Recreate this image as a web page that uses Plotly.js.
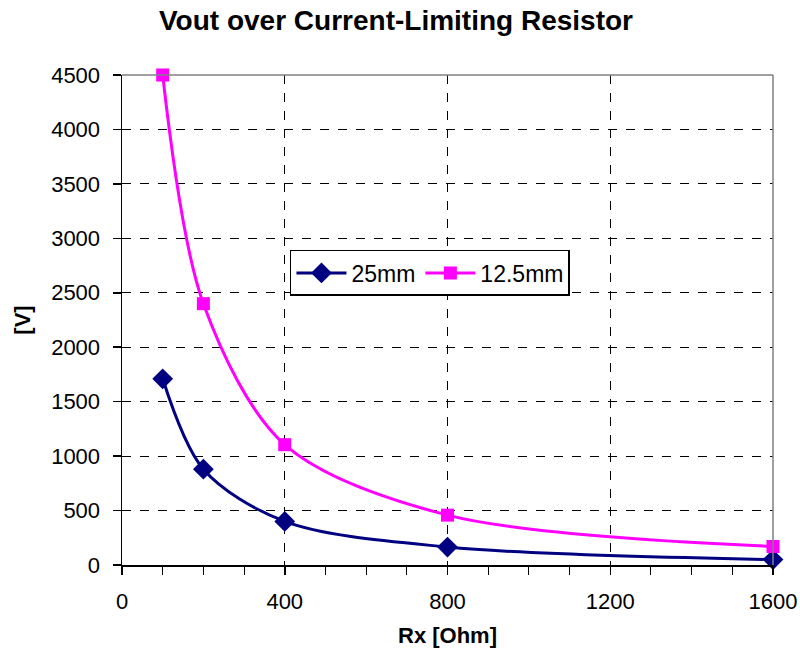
<!DOCTYPE html>
<html>
<head>
<meta charset="utf-8">
<script src="https://cdn.plot.ly/plotly-3.0.1.min.js"></script>
<style>html,body{margin:0;padding:0;background:#fff;}#chart{width:800px;height:658px;}</style>
</head>
<body>
<div id="chart"></div>
<script>
const rx = [100, 200, 400, 800, 1600];
const vout25 = [1710, 880, 400, 165, 50];
const vout125 = [4500, 2400, 1105, 458, 170];
const seriesNames = ["25mm", "12.5mm"];
const xTicks = [0, 400, 800, 1200, 1600];
const yTicks = [0, 500, 1000, 1500, 2000, 2500, 3000, 3500, 4000, 4500];

const font = "Arial, 'Liberation Sans', sans-serif";
const traces = [
  {x: rx, y: vout25, name: seriesNames[0], type: 'scatter', mode: 'lines+markers', cliponaxis: false,
   line: {color: '#000080', width: 3, shape: 'spline', smoothing: 0.9},
   marker: {symbol: 'diamond', size: 16, color: '#000080'}},
  {x: rx, y: vout125, name: seriesNames[1], type: 'scatter', mode: 'lines+markers', cliponaxis: false,
   line: {color: '#FF00FF', width: 3, shape: 'spline', smoothing: 0.9},
   marker: {symbol: 'square', size: 13, color: '#FF00FF'}}
];
const layout = {
  width: 800, height: 658,
  margin: {l: 122, r: 27, t: 75, b: 93},
  paper_bgcolor: '#fff', plot_bgcolor: '#fff',
  font: {family: font, color: '#000', size: 22},
  title: {text: '<b>Vout over Current-Limiting Resistor</b>', x: 0.495, xanchor: 'center', y: 0.969, yanchor: 'middle',
          font: {family: font, size: 28, color: '#000'}},
  xaxis: {range: [0, 1600], tickvals: xTicks, ticktext: xTicks.map(String),
          showline: true, linecolor: '#000', linewidth: 1.5,
          ticks: 'outside', ticklen: 8, tickcolor: '#000', tickwidth: 1.5,
          minor: {dtick: 100, tick0: 0, ticks: 'outside', ticklen: 8, tickcolor: '#000', tickwidth: 1, showgrid: false},
          showgrid: true, gridcolor: '#000', griddash: 'dash', gridwidth: 1,
          zeroline: false, tickfont: {size: 22}, ticklabelstandoff: 8,
          title: {text: '<b>Rx [Ohm]</b>', font: {size: 22}, standoff: 14}},
  yaxis: {range: [0, 4500], tickvals: yTicks,
          showline: true, linecolor: '#000', linewidth: 1.5,
          ticks: 'outside', ticklen: 8, tickcolor: '#000', tickwidth: 1.5,
          showgrid: true, gridcolor: '#000', griddash: 'dash', gridwidth: 1,
          zeroline: false, tickfont: {size: 22}, ticklabelstandoff: 8,
          title: {text: '<b>[V]</b>', font: {size: 22}, standoff: 14}},
  legend: {orientation: 'h', x: 0.258, y: 0.643, xanchor: 'left', yanchor: 'top',
           bgcolor: '#fff', bordercolor: '#000', borderwidth: 1.5,
           font: {size: 23}, itemwidth: 50},
  shapes: [
    {type: 'line', xref: 'paper', yref: 'paper', x0: 0, x1: 1, y0: 1, y1: 1, line: {color: '#808080', width: 1.5}},
    {type: 'line', xref: 'paper', yref: 'paper', x0: 1, x1: 1, y0: 0, y1: 1, line: {color: '#808080', width: 1.5}}
  ],
  showlegend: true
};
Plotly.newPlot('chart', traces, layout, {displayModeBar: false, staticPlot: true});
</script>
</body>
</html>
